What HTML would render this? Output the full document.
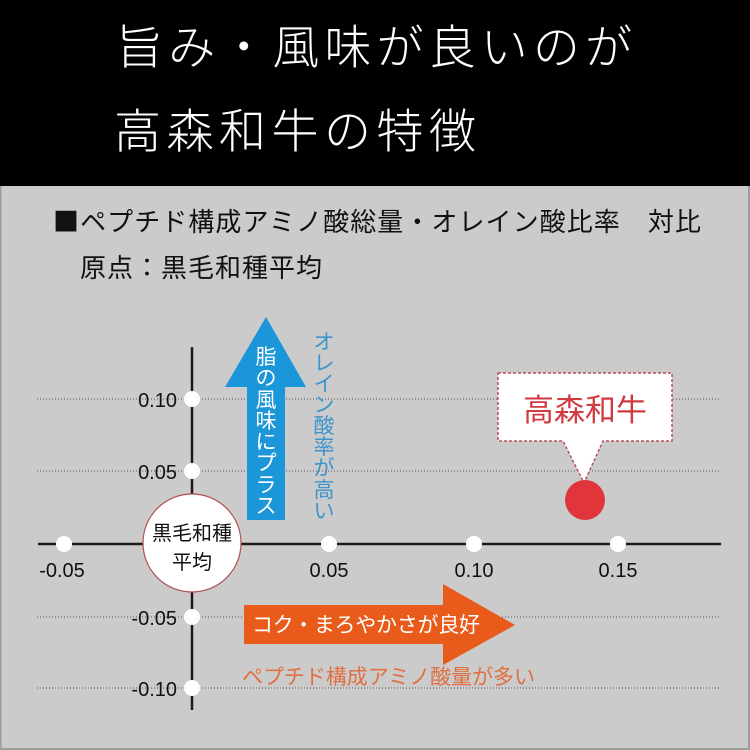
<!DOCTYPE html>
<html><head><meta charset="utf-8">
<style>
html,body{margin:0;padding:0;background:#000;}
svg{display:block;}
.jp{font-family:"Liberation Sans","Noto Sans CJK JP",sans-serif;}
.cjk{font-family:"Noto Sans CJK JP",sans-serif;}
.num{font-family:"Liberation Sans","Noto Sans CJK JP",sans-serif;font-size:20px;fill:#111;}
</style></head>
<body>
<svg width="750" height="750" viewBox="0 0 750 750" xmlns="http://www.w3.org/2000/svg">
  <rect x="0" y="0" width="750" height="750" fill="#000"/>
  <!-- Title -->
  <text class="jp" x="116" y="64" font-size="47" font-weight="300" fill="#fff" textLength="516" lengthAdjust="spacing">旨み・風味が良いのが</text>
  <text class="jp" x="114" y="148" font-size="47" font-weight="300" fill="#fff" textLength="362" lengthAdjust="spacing">高森和牛の特徴</text>

  <!-- gray panel -->
  <rect x="0" y="186" width="750" height="564" fill="#cbcbcb"/>
  <rect x="0" y="186" width="1.5" height="564" fill="#9c9c9c"/>
  <rect x="748" y="186" width="2" height="564" fill="#9c9c9c"/>
  <rect x="0" y="748" width="750" height="2" fill="#9c9c9c"/>

  <text class="cjk" x="53" y="231" font-size="26" fill="#111" textLength="648" lengthAdjust="spacing">■ペプチド構成アミノ酸総量・オレイン酸比率　対比</text>
  <text class="jp" x="80" y="277" font-size="26" fill="#111" textLength="242" lengthAdjust="spacing">原点：黒毛和種平均</text>

  <!-- dotted grid -->
  <g stroke="#555" stroke-width="1" stroke-dasharray="1 2">
    <line x1="37" y1="399" x2="721" y2="399"/>
    <line x1="37" y1="471" x2="721" y2="471"/>
    <line x1="37" y1="617" x2="721" y2="617"/>
    <line x1="37" y1="688" x2="721" y2="688"/>
  </g>

  <!-- axes -->
  <line x1="38" y1="544" x2="721" y2="544" stroke="#221818" stroke-width="2.5"/>
  <line x1="192" y1="347" x2="192" y2="710" stroke="#221818" stroke-width="2.5"/>

  <!-- tick dots -->
  <g fill="#fff">
    <circle cx="64" cy="544" r="8"/>
    <circle cx="329" cy="544" r="8"/>
    <circle cx="474" cy="544" r="8"/>
    <circle cx="618" cy="544" r="8"/>
    <circle cx="192" cy="399" r="8"/>
    <circle cx="192" cy="471" r="8"/>
    <circle cx="192" cy="617" r="8"/>
    <circle cx="192" cy="688" r="8"/>
  </g>

  <!-- tick labels -->
  <g class="num">
    <text x="177" y="407" text-anchor="end">0.10</text>
    <text x="177" y="479" text-anchor="end">0.05</text>
    <text x="177" y="625" text-anchor="end">-0.05</text>
    <text x="177" y="696" text-anchor="end">-0.10</text>
    <text x="62" y="577" text-anchor="middle">-0.05</text>
    <text x="329" y="577" text-anchor="middle">0.05</text>
    <text x="474" y="577" text-anchor="middle">0.10</text>
    <text x="618" y="577" text-anchor="middle">0.15</text>
  </g>

  <!-- blue arrow -->
  <polygon points="247,520 285,520 285,387 306,387 266,317 225,387 247,387" fill="#1b96d8"/>
  <g class="jp" font-size="21" fill="#fff" text-anchor="middle">
    <text x="266" y="364">脂</text>
    <text x="266" y="385">の</text>
    <text x="266" y="407">風</text>
    <text x="266" y="428">味</text>
    <text x="266" y="449">に</text>
    <text x="266" y="470">プ</text>
    <text x="266" y="492">ラ</text>
    <text x="266" y="513">ス</text>
  </g>
  <g class="jp" font-size="21" fill="#3d95cc" text-anchor="middle">
    <text x="324" y="349">オ</text>
    <text x="324" y="370">レ</text>
    <text x="324" y="391">イ</text>
    <text x="324" y="412">ン</text>
    <text x="324" y="433">酸</text>
    <text x="324" y="454">率</text>
    <text x="324" y="475">が</text>
    <text x="324" y="497">高</text>
    <text x="324" y="518">い</text>
  </g>

  <!-- orange arrow -->
  <polygon points="244,605 443,605 443,584 515,625 443,665 443,644 244,644" fill="#e85b1a"/>
  <text class="jp" x="252" y="632" font-size="21" fill="#fff" textLength="228" lengthAdjust="spacing">コク・まろやかさが良好</text>
  <text class="jp" x="242" y="684" font-size="21" fill="#e07040" textLength="293" lengthAdjust="spacing">ペプチド構成アミノ酸量が多い</text>

  <!-- origin circle -->
  <circle cx="192" cy="543" r="49" fill="#fff" stroke="#b05050" stroke-width="1.2"/>
  <text class="jp" x="192" y="540" font-size="20" fill="#111" text-anchor="middle">黒毛和種</text>
  <text class="jp" x="192" y="569" font-size="20" fill="#111" text-anchor="middle">平均</text>

  <!-- callout -->
  <path d="M498,373 H672 V441 H603 L584,483 L563,441 H498 Z" fill="#fff" stroke="#b8505a" stroke-width="1.5" stroke-dasharray="3 2"/>
  <text class="jp" x="585" y="421" font-size="31" fill="#d03a40" text-anchor="middle">高森和牛</text>

  <!-- red point -->
  <circle cx="585" cy="500" r="20" fill="#e0353b"/>
</svg>
</body></html>
